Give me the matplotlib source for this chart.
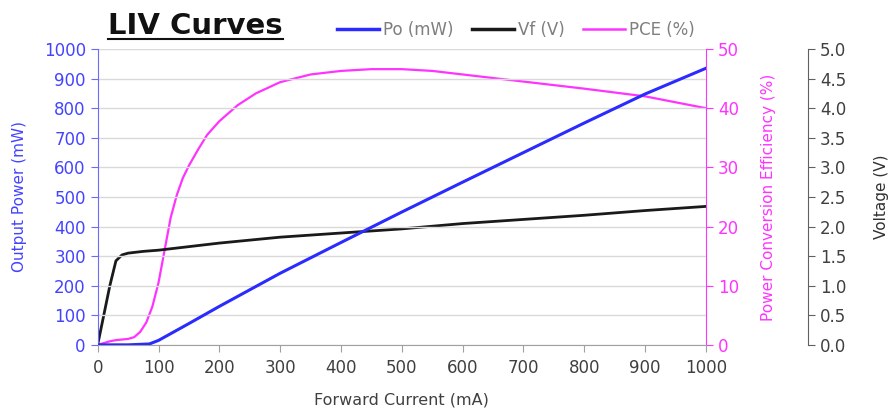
import matplotlib
matplotlib.use("Agg")
import matplotlib.pyplot as plt
from matplotlib.lines import Line2D

# ---- data ----
po_current = [0, 50, 85, 100, 150, 200, 300, 400, 500, 600, 700, 800, 900, 1000]
po_mw = [0, 0, 3, 15, 72, 130, 242, 346, 449, 550, 650, 750, 848, 935]

vf_current = [0, 10, 20, 30, 40, 50, 75, 100, 150, 200, 300, 400, 500, 600, 700, 800, 900, 1000]
vf_volts = [0, 0.5, 1.0, 1.42, 1.52, 1.55, 1.58, 1.60, 1.66, 1.72, 1.82, 1.89, 1.96, 2.05, 2.12, 2.19, 2.27, 2.34]

pce_current = [0, 10, 20, 30, 40, 50, 60, 70, 80, 90, 100, 110, 120, 130, 140, 150, 165, 180, 200,
               230, 260, 300, 350, 400, 450, 500, 550, 600, 700, 800, 900, 1000]
pce_pct = [0, 0.3, 0.6, 0.8, 0.9, 1.0, 1.3, 2.2, 3.8, 6.5, 10.5, 16, 21.5, 25.3, 28.2, 30.3, 33, 35.5, 37.8,
           40.5, 42.5, 44.4, 45.7, 46.3, 46.6, 46.6, 46.3, 45.7, 44.5, 43.3, 42.0, 40.0]

x_ticks = list(range(0, 1001, 100))
po_ticks = list(range(0, 1001, 100))
pce_ticks = list(range(0, 51, 10))
v_ticks = [i * 0.5 for i in range(11)]

BLUE = "#2b2bff"
MAG = "#ff33ff"
BLK = "#1a1a1a"

fig = plt.figure(figsize=(8.88, 4.12), dpi=100)
ax = fig.add_axes([0.110, 0.163, 0.685, 0.718])
ax2 = ax.twinx()
ax3 = ax.twinx()
ax3.spines["right"].set_position(("axes", 1.168))

ax.set_xlim(0, 1000)
ax.set_ylim(0, 1000)
ax2.set_ylim(0, 50)
ax3.set_ylim(0, 5)

for a in (ax, ax2, ax3):
    a.spines["top"].set_visible(False)
ax2.spines["left"].set_visible(False)
ax2.spines["bottom"].set_visible(False)
ax3.spines["left"].set_visible(False)
ax3.spines["bottom"].set_visible(False)
ax.spines["right"].set_visible(False)

ax.spines["left"].set_color("#6a6aff")
ax.spines["bottom"].set_color("#a0a0a0")
ax2.spines["right"].set_color(MAG)
ax3.spines["right"].set_color("#606060")

ax.grid(axis="y", color="#d9d9d9", linewidth=1)
ax.set_axisbelow(True)

ax.set_xticks(x_ticks)
ax.set_yticks(po_ticks)
ax2.set_yticks(pce_ticks)
ax3.set_yticks(v_ticks)
ax3.set_yticklabels([f"{v:.1f}" for v in v_ticks])

ax.tick_params(axis="x", colors="#a0a0a0", labelcolor="#404040", labelsize=12, length=5, pad=5, direction="out")
ax.tick_params(axis="y", colors="#6a6aff", labelcolor="#4444ff", labelsize=12, length=5, direction="out")
ax2.tick_params(axis="y", colors=MAG, labelcolor=MAG, labelsize=12, length=5, direction="out")
ax3.tick_params(axis="y", colors="#606060", labelcolor="#404040", labelsize=12, length=5, direction="out")

ax2.plot(pce_current, pce_pct, color=MAG, linewidth=1.6, zorder=2)
ax3.plot(vf_current, vf_volts, color=BLK, linewidth=2.0, zorder=2)
ax.plot(po_current, po_mw, color=BLUE, linewidth=2.2, zorder=3)
ax.set_zorder(3)
ax.patch.set_visible(False)
ax2.set_zorder(1)
ax3.set_zorder(2)

ax.set_xlabel("Forward Current (mA)", fontsize=11.5, color="#404040", labelpad=11)
ax.set_ylabel("Output Power (mW)", fontsize=11, color="#4444ff", labelpad=12)
ax2.set_ylabel("Power Conversion Efficiency (%)", fontsize=11, color=MAG, labelpad=16)
ax3.set_ylabel("Voltage (V)", fontsize=11, color="#303030", labelpad=20)

handles = [Line2D([], [], color=BLUE, lw=2.5), Line2D([], [], color=BLK, lw=2.5), Line2D([], [], color=MAG, lw=1.8)]
leg = fig.legend(handles, ["Po (mW)", "Vf (V)", "PCE (%)"], loc="center", bbox_to_anchor=(0.581, 0.927),
                 ncol=3, frameon=False, fontsize=12, handlelength=2.5, handletextpad=0.25, columnspacing=1.1)
for t in leg.get_texts():
    t.set_color("#7f7f7f")

title = fig.text(0.1216, 0.938, "LIV Curves", fontsize=21, fontweight="bold", color="#111111",
                 ha="left", va="center")
fig.canvas.draw()
bb = title.get_window_extent().transformed(fig.transFigure.inverted())
fig.add_artist(Line2D([bb.x0, bb.x1], [bb.y0 + 0.002, bb.y0 + 0.002], color="#111111", lw=1.5,
                      transform=fig.transFigure))

fig.savefig("out.png", dpi=100)
